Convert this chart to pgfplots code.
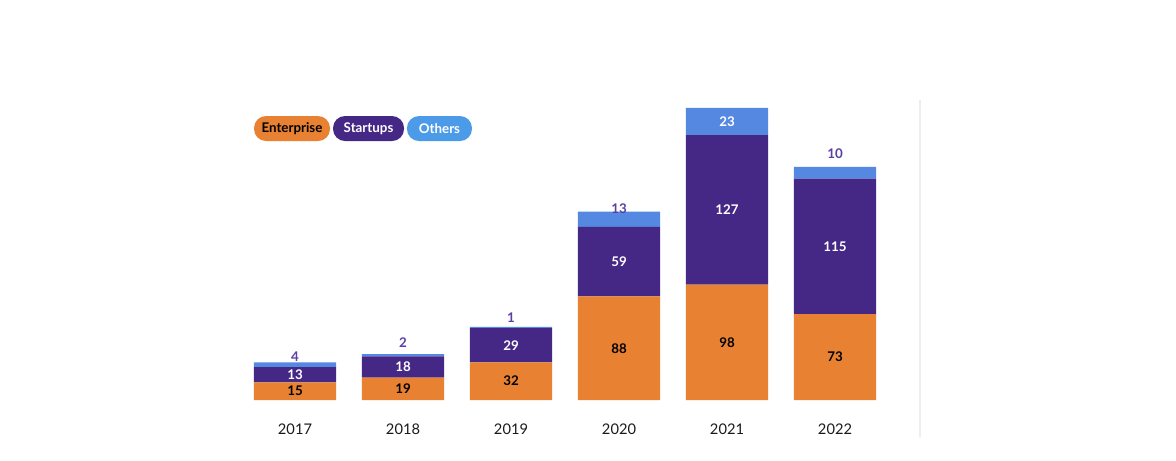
\documentclass[border=0pt]{standalone}
\usepackage{pgfplots}
\pgfplotsset{compat=1.18}
\usepackage{pgfplotstable}
\usepackage{fontspec}
\setmainfont{Lato}

\definecolor{enterprise}{HTML}{E88132}
\definecolor{startups}{HTML}{452785}
\definecolor{others}{HTML}{5588E0}
\definecolor{otherskey}{HTML}{4C9BE8}
\definecolor{toplabel}{HTML}{5B3FA6}
\definecolor{ticktext}{HTML}{1A1A1A}
\definecolor{rule}{HTML}{EEEEEE}

% funding rounds per year
\pgfplotstableread{
x  ent  stu  oth
0  15   13   4
1  19   18   2
2  32   29   1
3  88   59   13
4  98   127  23
5  73   115  10
}\counts

% both axes share one frame (1px = 0.75pt)
\pgfplotsset{
  frame/.style={
    at={(180.75pt,45pt)}, anchor=south west,
    scale only axis, width=486pt, height=229.6pt,
    xmin=-0.5, xmax=5.5, ymin=0, ymax=260,
  },
}

\begin{document}
\begin{tikzpicture}
\fill[white] (0,0) rectangle (882pt,345pt);
\draw[rule, line width=0.8pt] (690pt,17.25pt) -- (690pt,270pt);

\begin{axis}[
    frame,
    ybar stacked,
    bar width=0.76,
    axis line style={draw=none},
    ytick=\empty,
    xtick=data,
    xticklabels={2017,2018,2019,2020,2021,2022},
    major tick length=0pt,
    xticklabel style={font=\fontsize{11}{12}\selectfont, text=ticktext,
        anchor=north, inner sep=0pt, yshift=-18pt},
]
\addplot[fill=enterprise, draw=none] table[x=x, y=ent] {\counts};
\addplot[fill=startups, draw=none] table[x=x, y=stu] {\counts};
\addplot[fill=others, draw=none] table[x=x, y=oth] {\counts};
\end{axis}

% value labels
\begin{axis}[
    frame,
    hide axis,
    nodes near coords,
    point meta=explicit symbolic,
    every node near coord/.style={anchor=center, inner sep=0pt,
        font=\bfseries\fontsize{10}{12}\selectfont},
]
\addplot[draw=none, mark=none, every node near coord/.append style={text=black}]
    coordinates {(0,7.5)[15] (1,9.5)[19] (2,16)[32] (3,44)[88] (4,49)[98] (5,36.5)[73]};
\addplot[draw=none, mark=none, every node near coord/.append style={text=white}]
    coordinates {(0,21.5)[13] (1,28)[18] (2,46.5)[29] (3,117.5)[59] (4,161.5)[127] (5,130.5)[115]};
\addplot[draw=none, mark=none, every node near coord/.append style={text=white}]
    coordinates {(4,236.5)[23]};
\addplot[draw=none, mark=none, every node near coord/.append style={text=toplabel}]
    coordinates {(0,36.8)[4] (1,49)[2] (2,70.2)[1] (3,162.8)[13] (5,209.5)[10]};
\end{axis}

% legend pills
\begin{scope}[every node/.style={rounded corners=9pt, minimum height=18.75pt,
    inner sep=0pt, font=\bfseries\fontsize{10}{12}\selectfont}]
\node[fill=enterprise, text=black, minimum width=57pt] at (219pt,248.6pt) {Enterprise};
\node[fill=startups, text=white, minimum width=53.25pt] at (276.4pt,248.6pt) {Startups};
\node[fill=otherskey, text=white, minimum width=48.75pt] at (329.6pt,248.6pt) {Others};
\end{scope}
\end{tikzpicture}
\end{document}
